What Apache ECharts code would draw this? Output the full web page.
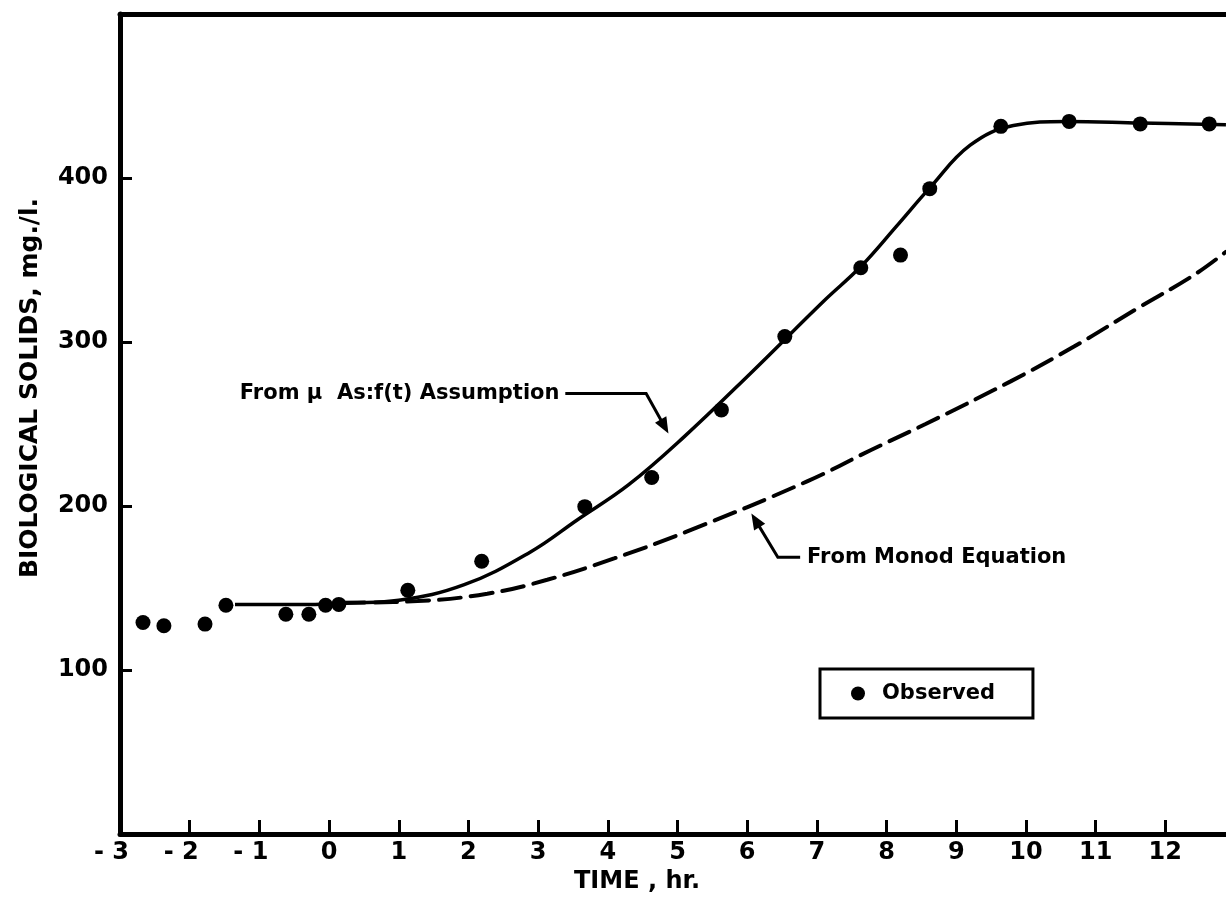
<!DOCTYPE html>
<html>
<head>
<meta charset="utf-8">
<script src="https://cdn.jsdelivr.net/npm/echarts@6/dist/echarts.min.js"></script>
<style>
  html, body { margin: 0; padding: 0; background: #fff; }
  #chart { width: 1226px; height: 897px; }
</style>
</head>
<body>
<div id="chart"></div>
<script>
// Observed biological solids (mg/l) against time (hr)
const obsTime   = [-2.67, -2.37, -1.78, -1.48, -0.62, -0.29, -0.05, 0.14, 1.13, 2.19, 3.67, 4.63, 5.63, 6.54, 7.63, 8.20, 8.62, 9.64, 10.62, 11.64, 12.63];
const obsSolids = [129, 127, 128, 139.5, 134, 134, 139.5, 140, 148.6, 166.3, 199.6, 217.4, 258.6, 303.3, 345.3, 353, 393.5, 431.5, 434.5, 433, 433];

// Curve from the mu-as-f(t) assumption
const fitTime   = [-1.35, -0.2, 0.3, 1.0, 1.94, 2.89, 3.56, 4.3, 5.09, 6.05, 7.1, 7.63, 8.15, 8.62, 9.2, 9.82, 10.59, 11.64, 12.87];
const fitSolids = [140, 140, 140.8, 142.5, 152, 172, 191.5, 213, 242, 281, 325, 346, 371, 394, 420, 432, 434.5, 433.5, 432.5];

// Curve from the Monod equation
const monodTime   = [0.2, 1.27, 2.27, 3.13, 4.09, 5.14, 6.86, 7.77, 8.56, 9.78, 10.69, 11.6, 12.41, 12.87];
const monodSolids = [141, 142, 146.5, 155, 168, 184.5, 215, 234, 250, 276, 297.2, 320.5, 340.8, 355];

// Axis ticks
const xTicks = [-3, -2, -1, 0, 1, 2, 3, 4, 5, 6, 7, 8, 9, 10, 11, 12];
const yTicks = [100, 200, 300, 400];

const FONT = '"DejaVu Sans", sans-serif';
const pairs = (xs, ys) => xs.map((x, i) => [x, ys[i]]);

const chart = echarts.init(document.getElementById('chart'), null, { renderer: 'canvas' });

chart.setOption({
  backgroundColor: '#fff',
  animation: false,
  grid: { left: 120, right: -9, top: 14, bottom: 63, outerBoundsMode: 'none' },
  legend: {
    data: ['Observed'],
    left: 820, top: 669,
    icon: 'circle', itemWidth: 14, itemHeight: 14,
    borderColor: '#000', borderWidth: 3, borderRadius: 0,
    padding: [14, 38, 14, 31],
    selectedMode: false,
    textStyle: { fontFamily: FONT, fontWeight: 'bold', fontSize: 21, color: '#000', padding: [0, 0, 0, 12] }
  },
  xAxis: [{
    type: 'value', min: -3, max: 13, interval: 1, position: 'bottom',
    axisLine: { show: true, onZero: false, lineStyle: { color: '#000', width: 5 } },
    axisTick: { show: true, inside: true, length: 14, lineStyle: { color: '#000', width: 3 } },
    splitLine: { show: false },
    axisLabel: {
      margin: 7, showMaxLabel: false,
      formatter: v => xTicks.includes(v) ? (v < 0 ? `{n|- ${-v}}{pad|}` : `{n|${v}}`) : '',
      rich: {
        n: { fontFamily: FONT, fontWeight: 'bold', fontSize: 24, color: '#000' },
        pad: { width: 17 }
      }
    }
  }, {
    type: 'value', min: -3, max: 13, position: 'top',
    axisLine: { show: true, onZero: false, lineStyle: { color: '#000', width: 5 } },
    axisTick: { show: false }, axisLabel: { show: false }, splitLine: { show: false }
  }],
  yAxis: {
    type: 'value', min: 0, max: 500, interval: 100,
    axisLine: { show: true, onZero: false, lineStyle: { color: '#000', width: 5 } },
    axisTick: { show: true, inside: true, length: 12, lineStyle: { color: '#000', width: 3 } },
    splitLine: { show: false },
    axisLabel: {
      margin: 12, fontFamily: FONT, fontWeight: 'bold', fontSize: 24, color: '#000',
      formatter: v => yTicks.includes(v) ? String(v) : ''
    }
  },
  series: [{
    name: 'From mu As f(t) Assumption', type: 'line',
    data: pairs(fitTime, fitSolids),
    showSymbol: false, smooth: 0.4,
    lineStyle: { color: '#000', width: 3.5 }, z: 2
  }, {
    name: 'From Monod Equation', type: 'line',
    data: pairs(monodTime, monodSolids),
    showSymbol: false, smooth: 0.4,
    lineStyle: { color: '#000', width: 4, type: [22, 10], cap: 'round' }, z: 2
  }, {
    name: 'Observed', type: 'scatter',
    data: pairs(obsTime, obsSolids),
    symbol: 'circle', symbolSize: 15,
    itemStyle: { color: '#000', opacity: 1 }, z: 3
  }]
});

// Annotations: labels with bent leader arrows, anchored in data units
const P = (x, y) => chart.convertToPixel({ gridIndex: 0 }, [x, y]);

function arrow(pts) {
  const px = pts.map(p => P(p[0], p[1]));
  const tip = px[px.length - 1], prev = px[px.length - 2];
  const dx = tip[0] - prev[0], dy = tip[1] - prev[1];
  const len = Math.hypot(dx, dy), ux = dx / len, uy = dy / len;
  const hl = 16, hw = 6.5;
  const bx = tip[0] - ux * hl, by = tip[1] - uy * hl;
  const shaft = px.slice(0, -1).concat([[bx + ux * 2, by + uy * 2]]);
  return [
    { type: 'polyline', shape: { points: shaft }, style: { stroke: '#000', lineWidth: 3, fill: null }, z: 10 },
    { type: 'polygon', shape: { points: [tip, [bx - uy * hw, by + ux * hw], [bx + uy * hw, by - ux * hw]] }, style: { fill: '#000' }, z: 10 }
  ];
}

function label(text, x, y, size) {
  const p = P(x, y);
  return {
    type: 'text', x: p[0], y: p[1], z: 10,
    style: { text, font: `bold ${size}px ${FONT}`, fill: '#000', textAlign: 'left', textVerticalAlign: 'middle', align: 'left', verticalAlign: 'middle' }
  };
}

const graphics = [
  label('From \u03bc  As:f(t) Assumption', -1.28, 268.6, 21),
  ...arrow([[3.39, 268.6], [4.55, 268.6], [4.87, 244.2]]),
  label('From Monod Equation', 6.86, 168.7, 21),
  ...arrow([[6.76, 168.7], [6.44, 168.7], [6.06, 195.5]]),
  {
    type: 'text', x: 30, y: 388, rotation: Math.PI / 2, z: 10,
    style: { text: 'BIOLOGICAL SOLIDS, mg./l.', font: `bold 25px ${FONT}`, fill: '#000', textAlign: 'center', textVerticalAlign: 'middle', align: 'center', verticalAlign: 'middle' }
  },
  {
    type: 'text', x: 637, y: 882, z: 10,
    style: { text: 'TIME , hr.', font: `bold 24px ${FONT}`, fill: '#000', textAlign: 'center', textVerticalAlign: 'middle', align: 'center', verticalAlign: 'middle' }
  }
];

chart.setOption({ graphic: graphics });
</script>
</body>
</html>
